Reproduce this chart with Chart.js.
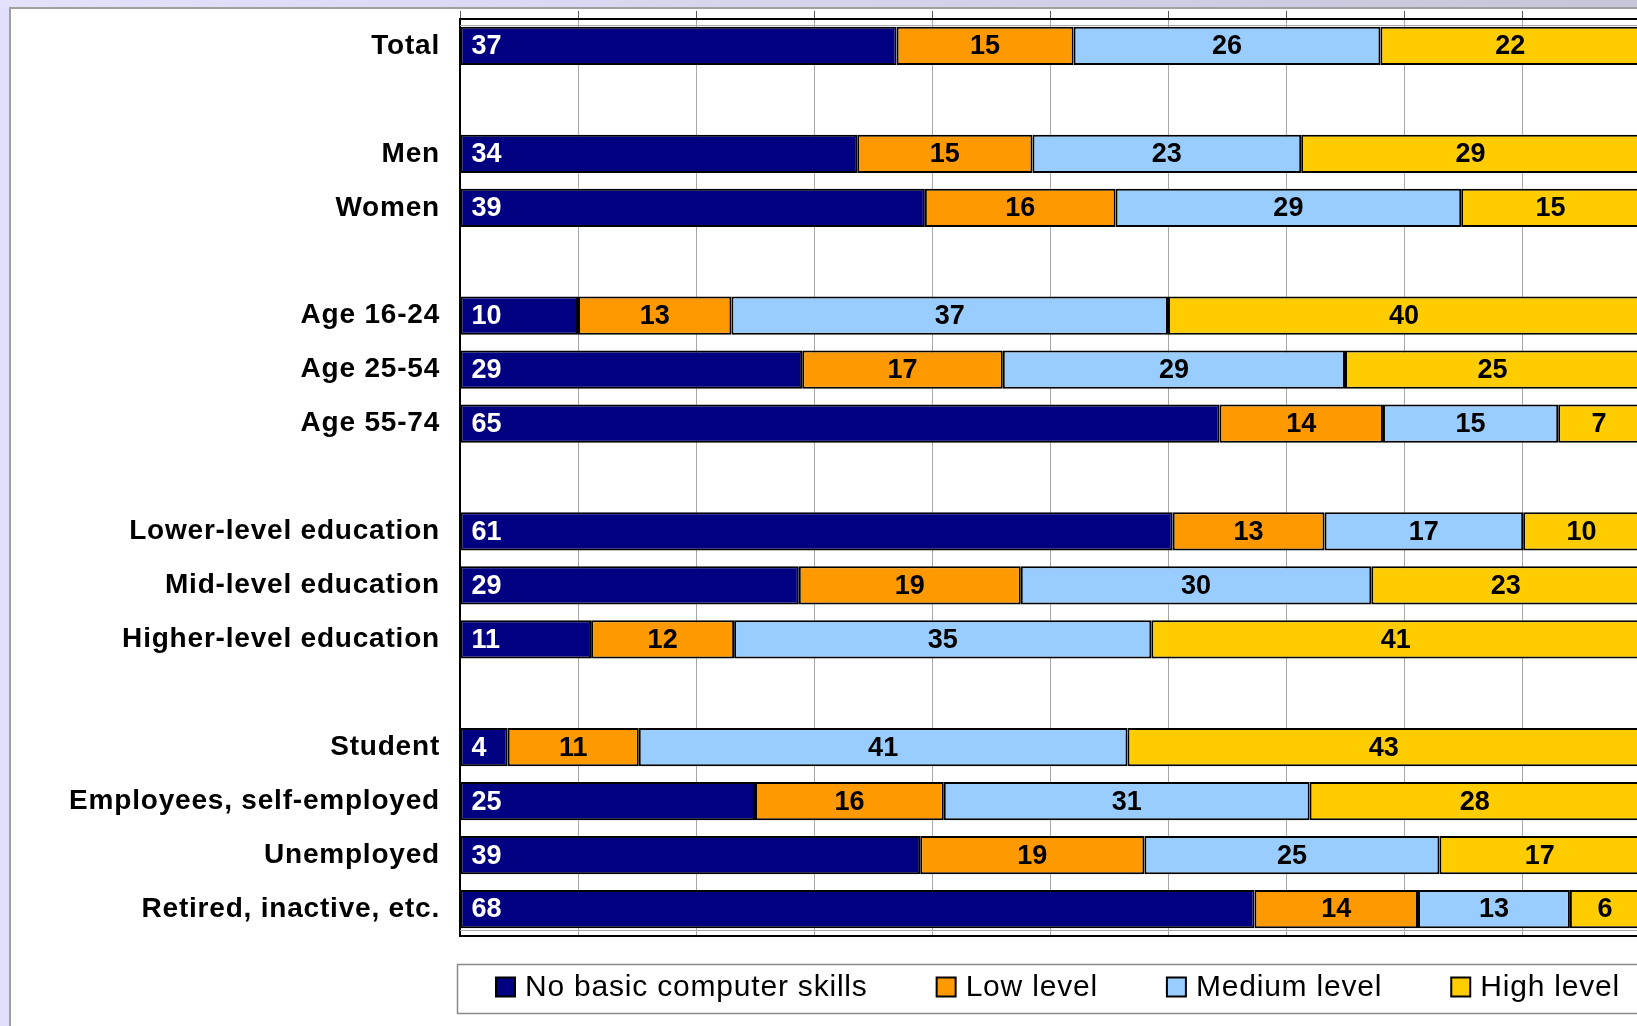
<!DOCTYPE html>
<html>
<head>
<meta charset="utf-8">
<title>Computer skills by group</title>
<script src="https://cdn.jsdelivr.net/npm/chart.js@4.4.1/dist/chart.umd.min.js"></script>
<style>
  html, body { margin: 0; padding: 0; width: 1637px; height: 1026px; overflow: hidden; background: #e0e0fc; }
  #band { position: absolute; left: 0; top: 0; width: 1637px; height: 8px; background: linear-gradient(to right, #e2e2fc, #c6c6da); }
  #panel { position: absolute; left: 9px; top: 7px; width: 1700px; height: 1100px; background: #ffffff;
           border-left: 2px solid #a0a0a0; border-top: 2px solid #a0a0a0; }
  #chart { position: absolute; left: 0; top: 0; }
</style>
</head>
<body>
<div id="band"></div>
<div id="panel"></div>
<canvas id="chart" width="1700" height="1026"></canvas>
<script>
// Groups (blank entries leave a gap between blocks of bars)
const categories = [
  'Total', '',
  'Men', 'Women', '',
  'Age 16-24', 'Age 25-54', 'Age 55-74', '',
  'Lower-level education', 'Mid-level education', 'Higher-level education', '',
  'Student', 'Employees, self-employed', 'Unemployed', 'Retired, inactive, etc.'
];
const seriesNames = ['No basic computer skills', 'Low level', 'Medium level', 'High level'];
// Percentages per group, as published (rounded, so rows may not add to exactly 100)
const noSkills    = [37, null, 34, 39, null, 10, 29, 65, null, 61, 29, 11, null,  4, 25, 39, 68];
const lowLevel    = [15, null, 15, 16, null, 13, 17, 14, null, 13, 19, 12, null, 11, 16, 19, 14];
const mediumLevel = [26, null, 23, 29, null, 37, 29, 15, null, 17, 30, 35, null, 41, 31, 25, 13];
const highLevel   = [22, null, 29, 15, null, 40, 25,  7, null, 10, 23, 41, null, 43, 28, 17,  6];
const seriesColors = ['#000080', '#ff9900', '#99ccff', '#ffcc00'];
const labelColors  = ['#ffffff', '#000000', '#000000', '#000000'];

const FONT = '"Liberation Sans", Arial, sans-serif';
const seriesValues = [noSkills, lowLevel, mediumLevel, highLevel];

// 100% stacked: each row is scaled to its own total
const rowTotals = categories.map((_, i) =>
  seriesValues.reduce((s, arr) => s + (arr[i] || 0), 0));
const shareOf = (arr) => arr.map((v, i) => (v === null ? null : v / rowTotals[i] * 100));

// Letter spacing for axis text
const spacingPlugin = {
  id: 'spacing',
  beforeDraw(chart) { if ('letterSpacing' in chart.ctx) chart.ctx.letterSpacing = '0.8px'; },
  afterDraw(chart) { if ('letterSpacing' in chart.ctx) chart.ctx.letterSpacing = '0px'; }
};

// Extra frame lines around the plot area
const framePlugin = {
  id: 'frame',
  beforeDatasetsDraw(chart) {
    const { ctx, chartArea: a } = chart;
    ctx.save();
    ctx.strokeStyle = '#a8a8a8';
    ctx.lineWidth = 1;
    ctx.beginPath();
    ctx.moveTo(a.left, a.top + 6.5); ctx.lineTo(a.right, a.top + 6.5);
    ctx.moveTo(a.left, a.bottom - 5.5); ctx.lineTo(a.right, a.bottom - 5.5);
    ctx.stroke();
    ctx.restore();
  },
  afterDatasetsDraw(chart) {
    const { ctx, chartArea: a } = chart;
    ctx.save();
    ctx.strokeStyle = '#000000';
    ctx.lineWidth = 2;
    ctx.beginPath();
    ctx.moveTo(a.left - 1, a.bottom); ctx.lineTo(a.right, a.bottom);
    ctx.stroke();
    ctx.restore();
  }
};

// Value labels inside each bar segment (the published numbers)
const valueLabelPlugin = {
  id: 'valueLabels',
  afterDatasetsDraw(chart) {
    const ctx = chart.ctx;
    ctx.save();
    if ('letterSpacing' in ctx) ctx.letterSpacing = '0px';
    ctx.font = 'bold 27px ' + FONT;
    ctx.textBaseline = 'middle';
    chart.data.datasets.forEach((ds, di) => {
      const meta = chart.getDatasetMeta(di);
      const raw = seriesValues[di];
      meta.data.forEach((bar, i) => {
        const v = raw[i];
        if (v === null || v === undefined) return;
        const p = bar.getProps(['x', 'y', 'base'], true);
        ctx.fillStyle = labelColors[di];
        if (di === 0) {
          ctx.textAlign = 'left';
          ctx.fillText(String(v), p.base + 11, p.y + 1);
        } else {
          ctx.textAlign = 'center';
          ctx.fillText(String(v), (p.x + p.base) / 2, p.y + 1);
        }
      });
    });
    ctx.restore();
  }
};

// Boxed legend below the plot
const legendBoxPlugin = {
  id: 'legendBox',
  afterDraw(chart) {
    const { ctx, chartArea: a } = chart;
    const boxL = a.left - 3, boxT = a.bottom + 28, boxH = 49;
    ctx.save();
    ctx.fillStyle = '#ffffff';
    ctx.fillRect(boxL, boxT, chart.width, boxH);
    ctx.strokeStyle = '#8a8a8a';
    ctx.lineWidth = 1.5;
    ctx.strokeRect(boxL + 0.5, boxT + 0.5, chart.width, boxH);
    ctx.font = '30px ' + FONT;
    if ('letterSpacing' in ctx) ctx.letterSpacing = '0.8px';
    ctx.textBaseline = 'alphabetic';
    ctx.textAlign = 'left';
    let x = boxL + 39;
    const cy = boxT + 23;
    chart.data.datasets.forEach((ds) => {
      ctx.fillStyle = ds.backgroundColor;
      ctx.fillRect(x, cy - 9.5, 19, 19);
      ctx.strokeStyle = '#000000';
      ctx.lineWidth = 2;
      ctx.strokeRect(x, cy - 9.5, 19, 19);
      ctx.fillStyle = '#000000';
      ctx.fillText(ds.label, x + 29, boxT + 32);
      x += 29 + ctx.measureText(ds.label).width + 69;
    });
    ctx.restore();
  }
};

new Chart(document.getElementById('chart'), {
  type: 'bar',
  data: {
    labels: categories,
    datasets: seriesValues.map((vals, k) => ({
      label: seriesNames[k],
      data: shareOf(vals),
      backgroundColor: seriesColors[k],
      borderColor: '#000000',
      borderWidth: 2,
      borderSkipped: false,
      barPercentage: 0.71,
      categoryPercentage: 1.0
    }))
  },
  options: {
    indexAxis: 'y',
    responsive: false,
    animation: false,
    devicePixelRatio: 1,
    layout: { padding: { left: 0, right: 60, top: 11, bottom: 90 } },
    plugins: { legend: { display: false }, tooltip: { enabled: false } },
    scales: {
      x: {
        type: 'linear',
        position: 'top',
        stacked: true,
        min: 0,
        max: 100,
        ticks: { display: false, stepSize: 10 },
        grid: { color: '#a8a8a8', lineWidth: 1, drawTicks: true, tickLength: 8, tickColor: '#555555' },
        border: { display: true, color: '#000000', width: 2 },
        afterFit(scale) { scale.paddingLeft = 0; scale.paddingRight = 0; }
      },
      y: {
        type: 'category',
        stacked: true,
        grid: { display: false, drawTicks: false },
        border: { display: true, color: '#000000', width: 2 },
        ticks: {
          padding: 20,
          color: '#000000',
          autoSkip: false,
          font: { family: FONT, size: 28, weight: 'bold' }
        },
        afterFit(scale) {
          scale.width = 460;
          scale.paddingTop = 0;
          scale.paddingBottom = 0;
        }
      }
    }
  },
  plugins: [spacingPlugin, framePlugin, valueLabelPlugin, legendBoxPlugin]
});
</script>
</body>
</html>
